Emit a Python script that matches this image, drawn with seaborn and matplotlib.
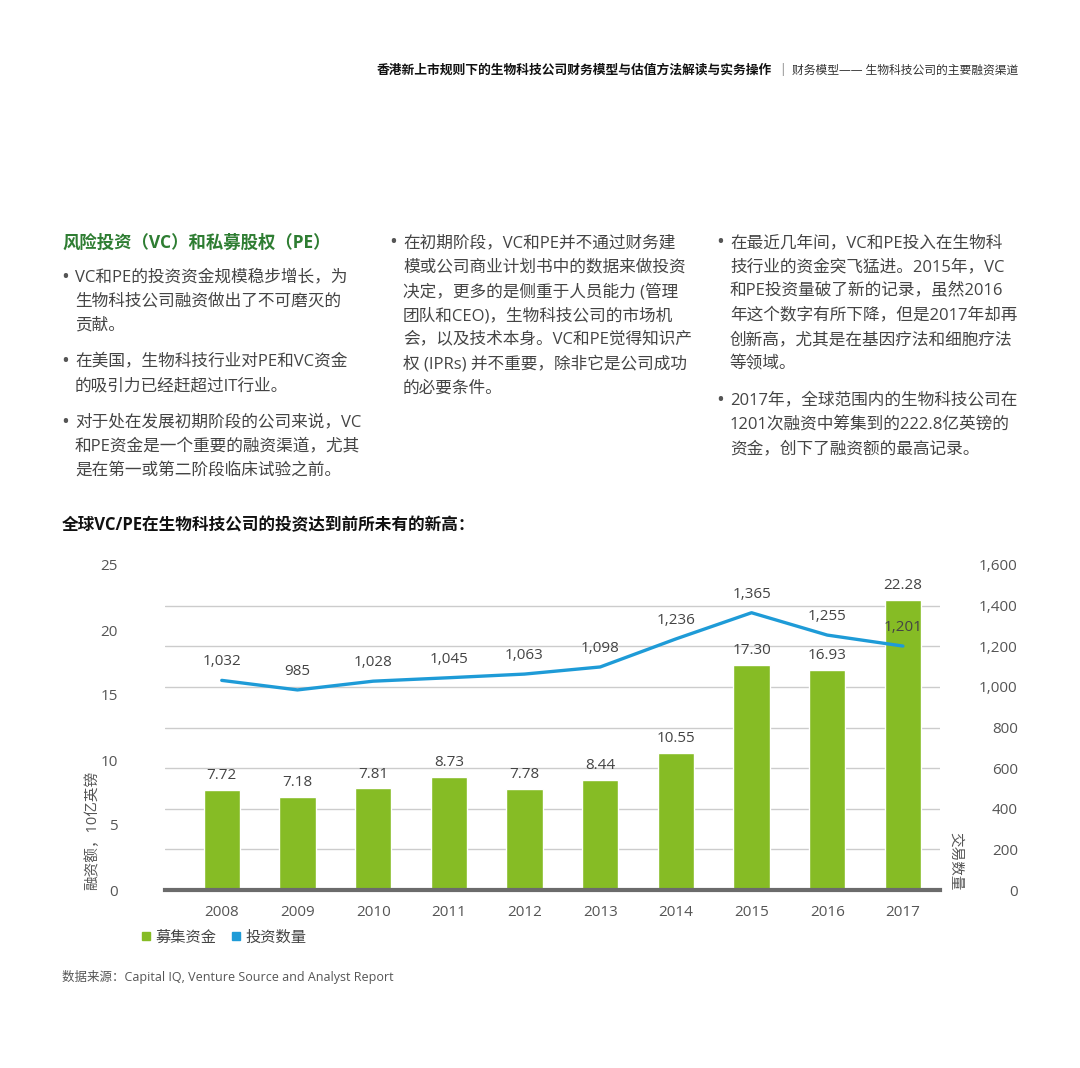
import numpy as np
import pandas as pd
import matplotlib
matplotlib.use("Agg")
import matplotlib.pyplot as plt
from matplotlib.lines import Line2D
import seaborn as sns

# data
years = ["2008", "2009", "2010", "2011", "2012", "2013", "2014", "2015", "2016", "2017"]
funds = [7.72, 7.18, 7.81, 8.73, 7.78, 8.44, 10.55, 17.30, 16.93, 22.28]
deals = [1032, 985, 1028, 1045, 1063, 1098, 1236, 1365, 1255, 1201]
left_ticks = [0, 5, 10, 15, 20, 25]
right_ticks = [0, 200, 400, 600, 800, 1000, 1200, 1400, 1600]

header_bold = "香港新上市规则下的生物科技公司财务模型与估值方法解读与实务操作"
header_norm = "财务模型—— 生物科技公司的主要融资渠道"
section_title = "风险投资（VC）和私募股权（PE）"
col1 = [["VC和PE的投资资金规模稳步增长，为", "生物科技公司融资做出了不可磨灭的", "贡献。"],
        ["在美国，生物科技行业对PE和VC资金", "的吸引力已经赶超过IT行业。"],
        ["对于处在发展初期阶段的公司来说，VC", "和PE资金是一个重要的融资渠道，尤其", "是在第一或第二阶段临床试验之前。"]]
col2 = [["在初期阶段，VC和PE并不通过财务建", "模或公司商业计划书中的数据来做投资", "决定，更多的是侧重于人员能力 (管理",
         "团队和CEO)，生物科技公司的市场机", "会，以及技术本身。VC和PE觉得知识产", "权 (IPRs) 并不重要，除非它是公司成功",
         "的必要条件。"]]
col3 = [["在最近几年间，VC和PE投入在生物科", "技行业的资金突飞猛进。2015年，VC", "和PE投资量破了新的记录，虽然2016",
         "年这个数字有所下降，但是2017年却再", "创新高，尤其是在基因疗法和细胞疗法", "等领域。"],
        ["2017年，全球范围内的生物科技公司在", "1201次融资中筹集到的222.8亿英镑的", "资金，创下了融资额的最高记录。"]]
chart_title = "全球VC/PE在生物科技公司的投资达到前所未有的新高："
source = "数据来源：Capital IQ, Venture Source and Analyst Report"

df = pd.DataFrame({"year": years, "funds": funds, "deals": deals})

sns.set_style("white")
plt.rcParams["font.family"] = ["Open Sans", "Noto Sans CJK SC", "DejaVu Sans"]

W, H = 1080, 1068
fig = plt.figure(figsize=(10.8, 10.68), dpi=100)

GREEN = "#86BC25"
BLUE = "#1E9BD7"
DARKGREEN = "#2E7D32"
TXT = "#444444"


def put(x, y, s, **kw):
    kw.setdefault("va", "center")
    kw.setdefault("color", TXT)
    return fig.text(x / W, 1 - y / H, s, **kw)


# header
put(772, 70, header_bold, ha="right", fontsize=9.2, fontweight="bold", color="#111111")
put(782, 69, "|", ha="center", fontsize=8.5, color="#777777")
put(1018, 70, header_norm, ha="right", fontsize=8.5, color="#333333")

# text columns
put(62, 243, section_title, fontsize=12.5, fontweight="bold", color=DARKGREEN)


def column(x, y0, paras, step=24.3, gap=12):
    y = y0
    for p in paras:
        put(x - 1, y, "•", fontsize=15, color="#555555")
        for line in p:
            put(x + 13, y, line, fontsize=12)
            y += step
        y += gap


column(62, 277, col1)
column(390, 243, col2)
column(717, 243, col3)

put(62, 525, chart_title, fontsize=12, fontweight="bold", color="#111111")
put(62, 977, source, fontsize=9, color="#555555")

# chart
ax = fig.add_axes([165 / W, 1 - 890 / H, 775 / W, 325 / H])
ax2 = ax.twinx()
ax.set_zorder(1)
ax2.set_zorder(2)
ax.patch.set_visible(False)
ax2.patch.set_visible(False)

sns.barplot(data=df, x="year", y="funds", ax=ax, color=GREEN, width=0.48,
            saturation=1, zorder=2)
sns.lineplot(x=np.arange(len(years)), y=df["deals"], ax=ax2, color=BLUE, lw=2.4)

ax.set_ylim(0, 25)
ax2.set_ylim(0, 1600)
ax.set_xlim(-0.75, 9.49)

# grid follows the right axis scale
ax.set_yticks(left_ticks)
ax.set_yticks(np.array(right_ticks) * 25 / 1600, minor=True)
ax.grid(which="minor", axis="y", color="#cccccc", lw=1)
ax.grid(which="major", axis="y", visible=False)
ax.tick_params(axis="y", which="both", length=0, pad=34, labelsize=11, labelcolor="#555555")
ax2.set_yticks(right_ticks)
ax2.set_yticklabels([f"{v:,}" for v in right_ticks])
ax2.tick_params(axis="y", length=0, pad=56, labelsize=11, labelcolor="#555555")
for t in ax2.get_yticklabels():
    t.set_horizontalalignment("right")
ax.tick_params(axis="x", length=0, pad=11, labelsize=11, labelcolor="#555555")

for a in (ax, ax2):
    for s in ("top", "left", "right"):
        a.spines[s].set_visible(False)
ax2.spines["bottom"].set_visible(False)
ax.spines["bottom"].set_color("#6b6b6b")
ax.spines["bottom"].set_linewidth(3)
ax.set_xlabel("")
ax.set_ylabel("")
ax2.set_ylabel("")

for i, v in enumerate(funds):
    ax.annotate(f"{v:.2f}", (i, v), xytext=(0, 5), textcoords="offset points",
                ha="center", va="bottom", fontsize=11, color=TXT)
for i, v in enumerate(deals):
    ax2.annotate(f"{v:,}", (i, v), xytext=(0, 8), textcoords="offset points",
                 ha="center", va="bottom", fontsize=11, color=TXT)

put(93, 890, "融资额，10亿英镑", rotation=90, ha="center", va="bottom", fontsize=10.5, color="#555555")
put(955, 890, "交易数量", rotation=-90, ha="center", va="bottom", fontsize=10.5, color="#555555")

handles = [Line2D([], [], marker="s", ls="", color=GREEN, markersize=6),
           Line2D([], [], marker="s", ls="", color=BLUE, markersize=6)]
fig.legend(handles, ["募集资金", "投资数量"], loc="center left",
           bbox_to_anchor=(128 / W, 1 - 938 / H), ncol=2, frameon=False,
           handlelength=0.6, handletextpad=0.3, columnspacing=1.0,
           prop={"size": 11}, labelcolor=TXT)

fig.savefig("out.png", dpi=100, facecolor="white")
